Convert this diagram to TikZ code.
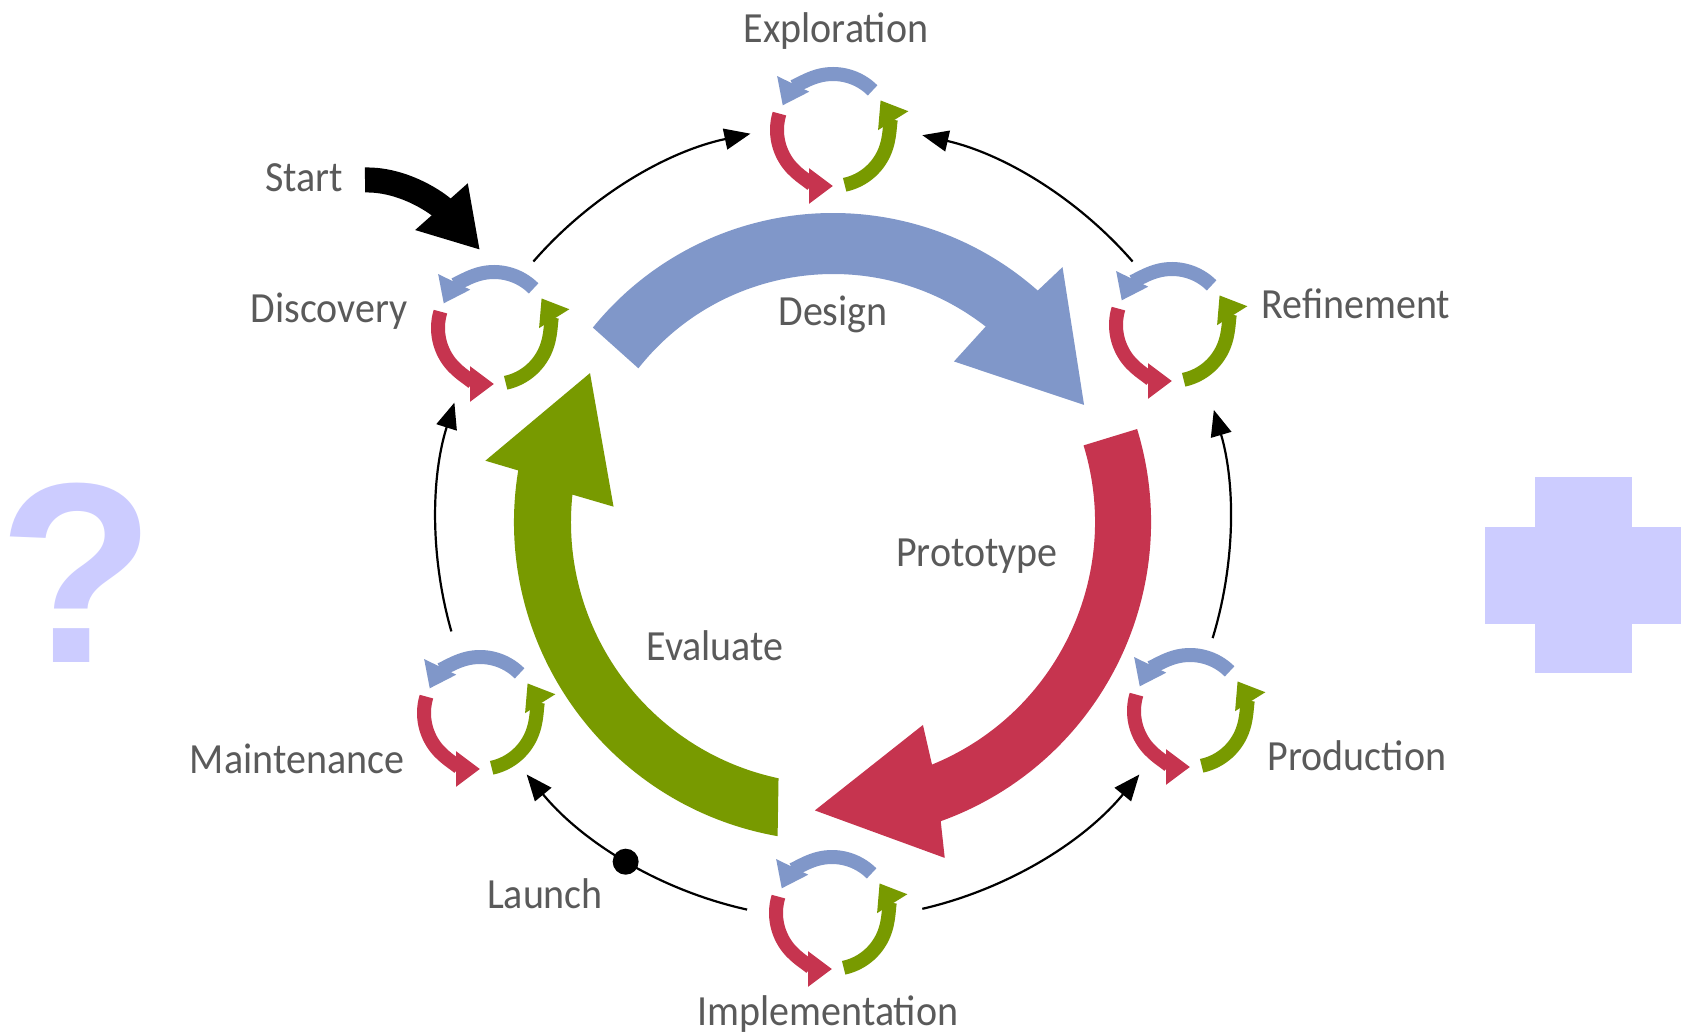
\documentclass[tikz,border=0pt]{standalone}
\usepackage{fontspec}
\setmainfont{Carlito}
\newfontfamily\lblfont{Carlito}[FakeStretch=0.93]
\newfontfamily\qfont{Liberation Sans}
\usetikzlibrary{arrows.meta}
\definecolor{blueC}{HTML}{8097C9}
\definecolor{redC}{HTML}{C6344F}
\definecolor{greenC}{HTML}{789A00}
\definecolor{lav}{HTML}{CCCCFF}
\definecolor{txt}{HTML}{5A5A5A}
\tikzset{
  cycarc/.style={line width=14pt, -{Triangle[length=24pt,width=34pt]}},
  cycle icon/.pic={
    \draw[cycarc, blueC] (45:56) arc[start angle=45, end angle=154, radius=56];
    \draw[cycarc, redC] (163:56) arc[start angle=163, end angle=270, radius=56];
    \draw[cycarc, greenC] (282:56) arc[start angle=282, end angle=392, radius=56];
  }
}
\begin{document}
\begin{tikzpicture}[x=1pt,y=1pt,
  lbl/.style={font=\lblfont\fontsize{43}{43}\selectfont, text=txt, inner sep=0pt, anchor=base},
  thinarr/.style={line width=2.2pt, -{Triangle[length=26pt,width=21pt]}},
]
\useasboundingbox (0,0) rectangle (1681,-1035);
\fill[white] (0,0) rectangle (1681,-1035);

% big arrows
\begin{scope}[shift={(833,-522)}]
  % Design (blue)
  \fill[blueC] (141:309) arc[start angle=141, end angle=48.5, radius=309]
     -- (48:343) -- (25:277) -- (53:201) -- (52:248)
     arc[start angle=52, end angle=141.7, radius=248] -- cycle;
  % Prototype (red)
  \fill[redC] (17:318) arc[start angle=17, end angle=-70.2, radius=318]
     -- (-71.6:354) -- (-93.6:289) -- (-66.1:222) -- (-67.8:262)
     arc[start angle=-67.8, end angle=17, radius=262] -- cycle;
  % Evaluate (green)
  \fill[greenC] (260:319) arc[start angle=260, end angle=170.7, radius=319]
     -- (170:353) -- (148.5:285) -- (176:220) -- (174:262)
     arc[start angle=174, end angle=258, radius=262] -- cycle;

  % thin connectors along the ring
  \draw[thinarr] (139:397) arc[start angle=139, end angle=102, radius=397];
  \draw[thinarr] (41:397) arc[start angle=41, end angle=77, radius=397];
  \draw[thinarr] (-17:397) arc[start angle=-17, end angle=16.4, radius=397];
  \draw[thinarr] (-77:397) arc[start angle=-77, end angle=-39.5, radius=397];
  \draw[thinarr] (-102.5:397) arc[start angle=-102.5, end angle=-140.5, radius=397];
  \draw[thinarr] (196:397) arc[start angle=196, end angle=162.5, radius=397];
  \node[circle, fill=black, inner sep=0pt, minimum size=26pt] (dot) at (238.6:398) {};
\end{scope}

% cycle icons
\pic (iExp) at (833,-130) {cycle icon};
\pic (iDis) at (494,-328) {cycle icon};
\pic (iRef) at (1172,-325) {cycle icon};
\pic (iPro) at (1190,-711) {cycle icon};
\pic (iImp) at (832,-913) {cycle icon};
\pic (iMai) at (480,-713) {cycle icon};

% start arrow
\node[lbl] (start) at (304,-192) {Start};
\coordinate (st0) at (365,-180);
\coordinate (st1) at (480,-250);
\draw[line width=25pt, -{Triangle[length=58pt,width=66pt]}] (st0) .. controls (405,-179) and (440,-205) .. (st1);

% labels
\node[lbl] (lExp) at (836,-43) {Exploration};
\node[lbl] (lDis) at (329,-322) {Discovery};
\node[lbl] (lDes) at (833,-325) {Design};
\node[lbl] (lRef) at (1356,-318) {Refinement};
\node[lbl] (lPrt) at (977,-566) {Prototype};
\node[lbl] (lEva) at (715,-660) {Evaluate};
\node[lbl] (lMai) at (297,-773) {Maintenance};
\node[lbl] (lPro) at (1357,-770) {Production};
\node[lbl] (lLau) at (545,-908) {Launch};
\node[lbl] (lImp) at (828,-1025) {Implementation};

% question mark and plus
\node[font=\qfont\bfseries\fontsize{257}{257}\selectfont, text=lav, inner sep=0pt, anchor=base west] (q) at (-2,-662) {?};
\fill[lav] (1535,-477) rectangle (1632,-673);
\fill[lav] (1485,-527) rectangle (1681,-624);
\end{tikzpicture}
\end{document}
